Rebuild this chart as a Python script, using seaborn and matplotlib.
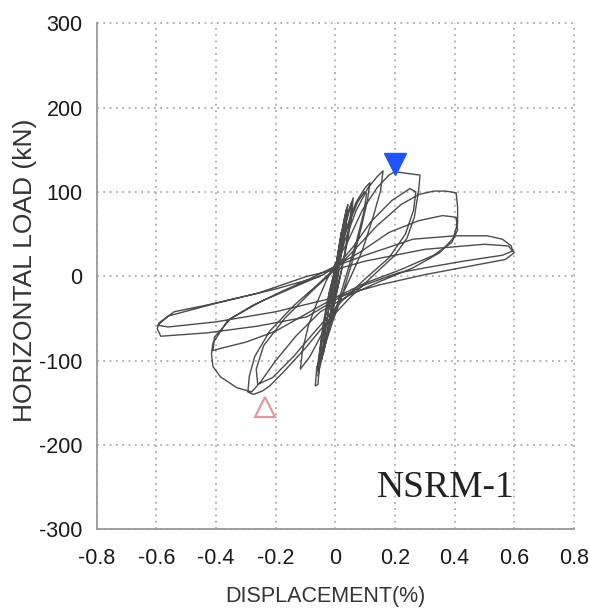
import numpy as np
import pandas as pd
import matplotlib
matplotlib.use("Agg")
import matplotlib.pyplot as plt
import seaborn as sns

# ---- data: hysteresis cycles (displacement %, horizontal load kN) ----
c1_disp = [0, 0.008, 0.018, 0.02, 0.012, 0.002, -0.008, -0.018, -0.02, -0.012, -0.003]
c1_load = [0, 25, 48, 52, 25, -5, -30, -55, -58, -30, -5]
c2_disp = [0.005, 0.02, 0.035, 0.042, 0.035, 0.02, 0.005, -0.015, -0.03, -0.04, -0.033, -0.02, -0.005]
c2_load = [20, 50, 75, 85, 60, 25, -10, -45, -75, -92, -65, -35, -5]
c2b_disp = [0.004, 0.018, 0.03, 0.038, 0.03, 0.015, 0.0, -0.02, -0.035, -0.045, -0.038, -0.022, -0.006]
c2b_load = [15, 45, 68, 80, 52, 18, -15, -50, -80, -98, -70, -38, -8]
c3_disp = [0.01, 0.03, 0.05, 0.06, 0.055, 0.04, 0.02, -0.005, -0.03, -0.05, -0.058, -0.052, -0.035, -0.015]
c3_load = [20, 55, 82, 93, 72, 40, 5, -35, -75, -105, -118, -90, -50, -15]
c3b_disp = [0.005, 0.025, 0.045, 0.055, 0.048, 0.03, 0.01, -0.015, -0.04, -0.055, -0.048, -0.03, -0.01]
c3b_load = [15, 50, 78, 88, 62, 25, -10, -50, -88, -108, -80, -40, -5]
c4_disp = [0.01, 0.04, 0.07, 0.1, 0.116, 0.108, 0.085, 0.055, 0.025, -0.01, -0.04, -0.062, -0.067,
           -0.058, -0.052, -0.04, -0.02, 0.0]
c4_load = [25, 60, 88, 105, 111, 90, 55, 15, -20, -55, -88, -108, -130, -128, -100, -60, -20, 5]
c4b_disp = [0.015, 0.045, 0.075, 0.098, 0.105, 0.095, 0.07, 0.04, 0.01, -0.025, -0.05, -0.062,
            -0.055, -0.04, -0.02, 0.0]
c4b_load = [30, 62, 88, 100, 98, 75, 40, 5, -30, -65, -95, -112, -95, -55, -18, 8]
c5_disp = [0.03, 0.07, 0.11, 0.14, 0.16, 0.152, 0.125, 0.09, 0.05, 0.01, -0.04, -0.085, -0.117,
           -0.11, -0.09, -0.06, -0.03, 0.0]
c5_load = [40, 78, 105, 118, 125, 102, 68, 30, -2, -32, -65, -95, -110, -88, -58, -30, -5, 15]
c6_disp = [0.04, 0.09, 0.14, 0.18, 0.2, 0.24, 0.284, 0.28, 0.265, 0.24, 0.2, 0.13, 0.05, -0.03,
           -0.1, -0.17, -0.22, -0.245, -0.275, -0.293, -0.288, -0.27, -0.22, -0.14, -0.06, 0.0]
c6_load = [40, 78, 105, 120, 124, 122, 120, 104, 70, 45, 25, 2, -25, -55, -85, -112, -130, -136,
           -140, -137, -118, -95, -65, -35, -10, 10]
c6b_disp = [0.06, 0.12, 0.19, 0.25, 0.27, 0.262, 0.235, 0.18, 0.1, 0.02, -0.06, -0.14, -0.21,
            -0.26, -0.265, -0.24, -0.17, -0.08, 0.0]
c6b_load = [35, 65, 90, 104, 100, 78, 50, 22, -3, -30, -62, -95, -120, -128, -110, -82, -50, -18, 8]
c7_disp = [0.06, 0.14, 0.22, 0.28, 0.33, 0.37, 0.405, 0.41, 0.41, 0.395, 0.35, 0.26, 0.15, 0.05,
           -0.05, -0.13, -0.2, -0.25, -0.28, -0.33, -0.385, -0.41, -0.415, -0.41, -0.36, -0.28,
           -0.18, -0.08, 0.0]
c7_load = [30, 60, 85, 97, 101, 101, 99, 82, 63, 45, 28, 10, -6, -22, -42, -70, -100, -125, -137,
           -132, -119, -107, -92, -79, -52, -35, -18, -2, 12]
c7b_disp = [0.08, 0.18, 0.28, 0.36, 0.405, 0.41, 0.39, 0.33, 0.22, 0.1, 0.0, -0.1, -0.2, -0.3,
            -0.38, -0.41, -0.405, -0.35, -0.25, -0.12, -0.04]
c7b_load = [28, 52, 66, 72, 70, 55, 40, 25, 8, -8, -25, -45, -65, -78, -85, -88, -72, -50, -30,
            -10, 2]
c8_disp = [0.0, 0.1, 0.26, 0.4, 0.51, 0.56, 0.59, 0.594, 0.56, 0.43, 0.3, 0.21, 0.1, 0.0, -0.095,
           -0.26, -0.43, -0.585, -0.597, -0.59, -0.54, -0.43, -0.26, -0.095, 0.0]
c8_load = [12, 25, 44, 48, 48, 44, 36, 30, 25, 18, 10, 4, -10, -28, -48, -59, -67, -71, -62, -55,
           -42, -34, -20, 0, 8]
c8b_disp = [0.1, 0.3, 0.5, 0.58, 0.6, 0.57, 0.45, 0.3, 0.15, 0.0, -0.2, -0.4, -0.56, -0.595,
            -0.56, -0.4, -0.2, -0.05]
c8b_load = [18, 32, 38, 36, 28, 20, 12, 2, -10, -25, -42, -54, -60, -58, -47, -32, -15, 0]

peak_pos_disp, peak_pos_load = [0.2], [133]
peak_neg_disp, peak_neg_load = [-0.235], [-155]

x_ticks = [-0.8, -0.6, -0.4, -0.2, 0, 0.2, 0.4, 0.6, 0.8]
x_tick_labels = ["-0.8", "-0.6", "-0.4", "-0.2", "0", "0.2", "0.4", "0.6", "0.8"]
y_ticks = [-300, -200, -100, 0, 100, 200, 300]
y_tick_labels = ["-300", "-200", "-100", "0", "100", "200", "300"]

cycles = [(c1_disp, c1_load), (c2_disp, c2_load), (c2b_disp, c2b_load), (c3_disp, c3_load),
          (c3b_disp, c3b_load), (c4_disp, c4_load), (c4b_disp, c4b_load), (c5_disp, c5_load),
          (c6_disp, c6_load), (c6b_disp, c6b_load), (c7_disp, c7_load), (c7b_disp, c7b_load),
          (c8_disp, c8_load), (c8b_disp, c8b_load)]
disp = np.concatenate([np.asarray(d, float) for d, _ in cycles])
load = np.concatenate([np.asarray(l, float) for _, l in cycles])
df = pd.DataFrame({"disp": disp, "load": load})

sns.set_style("white")
sans = ["Liberation Sans", "DejaVu Sans"]

fig = plt.figure(figsize=(5.89, 6.10), dpi=100)
ax = fig.add_axes([0.164, 0.132, 0.8105, 0.830])

sns.lineplot(data=df, x="disp", y="load", sort=False, estimator=None, ax=ax,
             color="#383838", linewidth=1.0, alpha=0.9)

ax.plot(peak_pos_disp, peak_pos_load, marker="v", linestyle="none", markersize=16,
        color="#1f55ff", markeredgecolor="#1f55ff")
ax.plot(peak_neg_disp, peak_neg_load, marker="^", linestyle="none", markersize=14,
        markerfacecolor="none", markeredgecolor="#e39a9a", markeredgewidth=1.6)

ax.set_xlim(-0.8, 0.8)
ax.set_ylim(-300, 300)
ax.set_xticks(x_ticks)
ax.set_xticklabels(x_tick_labels)
ax.set_yticks(y_ticks)
ax.set_yticklabels(y_tick_labels)
for lab in ax.get_xticklabels() + ax.get_yticklabels():
    lab.set_fontfamily(sans)
    lab.set_fontsize(15.5)
    lab.set_color("#1a1a1a")
ax.tick_params(axis="both", length=0)
ax.tick_params(axis="x", pad=13)
ax.tick_params(axis="y", pad=10)

ax.grid(True, color="#aaaaaa", linestyle=(0, (1, 2.5)), linewidth=1.3)
for gl in ax.get_xgridlines() + ax.get_ygridlines():
    gl.set_clip_on(False)

for side in ["top", "right"]:
    ax.spines[side].set_visible(False)
for side in ["left", "bottom"]:
    ax.spines[side].set_color("#9a9a9a")
    ax.spines[side].set_linewidth(1.3)

ax.set_xlabel("DISPLACEMENT(%)", fontsize=15.5, family=sans, color="#333333", va="center")
ax.xaxis.set_label_coords(0.479, -0.132)
ax.set_ylabel("HORIZONTAL LOAD (kN)", fontsize=19, family=sans, color="#333333", va="center")
ax.yaxis.set_label_coords(-0.150, 0.511)

ax.text(0.371, -250, "NSRM-1", fontsize=27, family=["Liberation Serif", "DejaVu Serif"],
        color="#222222", ha="center", va="center")

fig.savefig("out.png", dpi=100)
